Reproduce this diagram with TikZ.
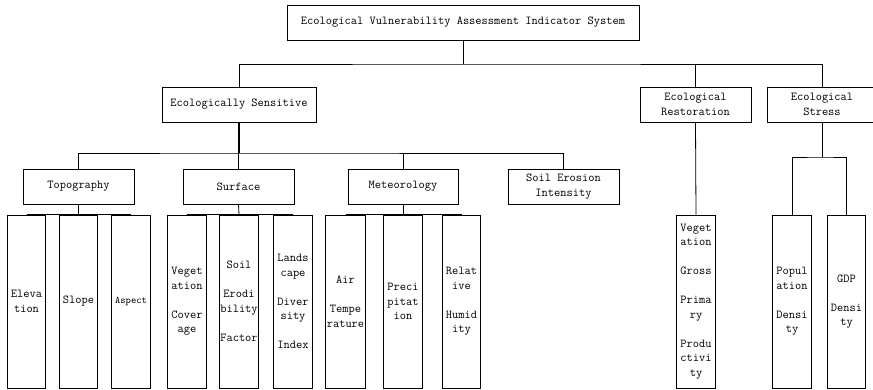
\documentclass[tikz,border=0pt]{standalone}
\usepackage{fontspec}
\newcommand{\lbl}{\ttfamily\fontsize{12.1}{14.5}\selectfont}
\newcommand{\sml}{\ttfamily\fontsize{10.1}{14.5}\selectfont}
\newcommand{\gap}{\\[14.5pt]}
\tikzset{
    box/.style={draw, minimum height=35pt, align=center, inner sep=1pt, font=\lbl},
    leaf/.style={draw, minimum width=38.5pt, minimum height=173pt, align=center, inner sep=0pt, font=\lbl}
}
\begin{document}
\begin{tikzpicture}[x=1pt, y=-1pt, line width=0.8pt]
    \useasboundingbox (0,0) rectangle (873,389);
    % Top level
    \node[box, minimum width=352pt] (title) at (463,22.5) {Ecological Vulnerability Assessment Indicator System};
    \node[box, minimum width=154pt] (sens) at (239,104.5) {Ecologically Sensitive};
    \node[box, minimum width=111pt] (rest) at (695.5,104.5) {Ecological\\Restoration};
    \node[box, minimum width=110pt] (stress) at (822,104.5) {Ecological\\Stress};
    \coordinate (tbar) at (463,64);
    \draw (title.south) -- (tbar);
    \draw (sens.north) |- (tbar) -| (stress.north);
    \draw (rest.north) -- (rest.north |- tbar);

    % Ecologically sensitive branch
    \node[box, minimum width=111pt] (topo) at (78.5,186.5) {Topography};
    \node[box, minimum width=111pt] (surf) at (238.5,186.5) {Surface};
    \node[box, minimum width=110pt] (met) at (403,186.5) {Meteorology};
    \node[box, minimum width=111pt] (soil) at (563.5,186.5) {Soil Erosion\\Intensity};
    \coordinate (sbar) at (239,153);
    \draw[line width=1.6pt] (sens.south) -- (sbar);
    \draw (topo.north) |- (sbar) -| (soil.north);
    \draw (surf.north) -- (surf.north |- sbar);
    \draw (met.north) -- (met.north |- sbar);

    % Leaves
    \node[leaf] (elev) at (26.5,301.5) {Eleva\\tion};
    \node[leaf] (slope) at (78.5,301.5) {Slope};
    \node[leaf, font=\sml] (asp) at (131,301.5) {Aspect};
    \node[leaf] (veg) at (187,301.5) {Veget\\ation\gap Cover\\age};
    \node[leaf] (erod) at (239,301.5) {Soil\gap Erodi\\bility\gap Factor};
    \node[leaf] (land) at (293,301.5) {Lands\\cape\gap Diver\\sity\gap Index};
    \node[leaf, minimum width=40pt] (air) at (345.5,301.5) {Air\gap Tempe\\rature};
    \node[leaf] (prec) at (403,301.5) {Preci\\pitat\\ion};
    \node[leaf] (hum) at (461.5,301.5) {Relat\\ive\gap Humid\\ity};
    \node[leaf] (gpp) at (696,301.5) {Veget\\ation\gap Gross\gap Prima\\ry\gap Produ\\ctivi\\ty};
    \node[leaf] (pop) at (792,301.5) {Popul\\ation\gap Densi\\ty};
    \node[leaf] (gdp) at (846.5,301.5) {GDP\gap Densi\\ty};

    \draw (topo.south) -- (slope.north);
    \draw (elev.north) -- (asp.north);
    \draw (surf.south) -- (erod.north);
    \draw (veg.north) -- (land.north);
    \draw (met.south) -- (prec.north);
    \draw (air.north) -- (hum.north);
    \draw (rest.south) -- (gpp.north);
    \coordinate (pbar) at (822,157);
    \draw (stress.south) -- (pbar);
    \draw (pop.north) |- (pbar) -| (gdp.north);
\end{tikzpicture}
\end{document}
